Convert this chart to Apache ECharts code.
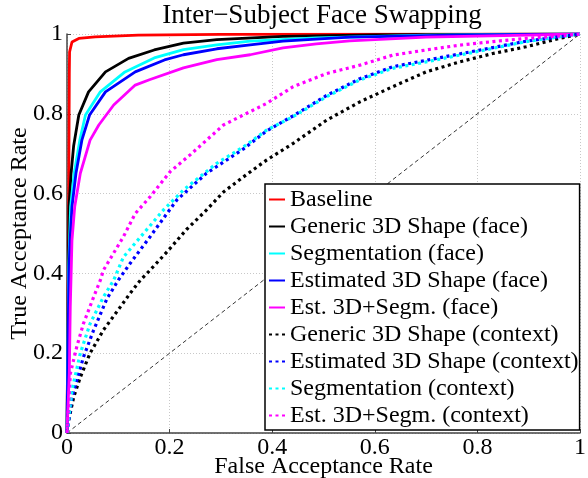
<!DOCTYPE html>
<html>
<head>
<meta charset="utf-8">
<title>Inter-Subject Face Swapping</title>
<script src="https://cdn.jsdelivr.net/npm/echarts@6/dist/echarts.min.js"></script>
<style>
	html, body { margin: 0; padding: 0; background: #fff; }
	#chart { width: 588px; height: 478px; }
</style>
</head>
<body>
<div id="chart"></div>
<script>
	// ROC curves, [false acceptance rate, true acceptance rate]
	var baseline = [[0,0],[0.003,0.5],[0.0045,0.9],[0.005,0.955],[0.0097,0.98],[0.023,0.989],[0.055,0.993],[0.139,0.997],[0.3,0.999],[1,1]];
	var genericFace = [[0,0],[0.002,0.3],[0.004,0.567],[0.008,0.651],[0.013,0.72],[0.023,0.797],[0.042,0.855],[0.075,0.905],[0.12,0.939],[0.17,0.96],[0.227,0.977],[0.292,0.986],[0.421,0.994],[0.6,0.998],[1,1]];
	var segFace = [[0,0],[0.003,0.4],[0.007,0.567],[0.014,0.651],[0.025,0.734],[0.036,0.797],[0.065,0.855],[0.113,0.905],[0.17,0.94],[0.227,0.961],[0.292,0.973],[0.357,0.982],[0.486,0.99],[0.7,0.997],[1,1]];
	var estFace = [[0,0],[0.0037,0.4],[0.006,0.483],[0.0097,0.567],[0.0175,0.651],[0.029,0.734],[0.044,0.797],[0.075,0.855],[0.133,0.905],[0.19,0.935],[0.227,0.948],[0.292,0.963],[0.357,0.973],[0.421,0.982],[0.551,0.992],[0.75,0.997],[1,1]];
	var estSegFace = [[0,0],[0.0045,0.15],[0.0064,0.316],[0.0097,0.483],[0.015,0.567],[0.026,0.651],[0.045,0.734],[0.062,0.772],[0.091,0.822],[0.133,0.872],[0.162,0.886],[0.227,0.915],[0.292,0.936],[0.357,0.948],[0.421,0.965],[0.486,0.975],[0.551,0.983],[0.7,0.992],[0.85,0.996],[1,1]];
	var genericCtx = [[0,0],[0.002,0.024],[0.013,0.09],[0.026,0.14],[0.045,0.2],[0.071,0.258],[0.104,0.316],[0.123,0.35],[0.143,0.383],[0.156,0.4],[0.195,0.454],[0.233,0.51],[0.272,0.559],[0.305,0.604],[0.344,0.642],[0.389,0.684],[0.441,0.726],[0.506,0.784],[0.571,0.83],[0.635,0.868],[0.7,0.905],[0.765,0.93],[0.83,0.951],[0.895,0.968],[0.96,0.989],[1,1]];
	var estCtx = [[0,0],[0.0097,0.09],[0.032,0.19],[0.052,0.258],[0.078,0.337],[0.1,0.383],[0.123,0.425],[0.162,0.492],[0.214,0.584],[0.272,0.651],[0.344,0.712],[0.389,0.757],[0.441,0.795],[0.506,0.846],[0.571,0.888],[0.635,0.918],[0.7,0.934],[0.765,0.95],[0.83,0.966],[0.895,0.982],[0.96,0.993],[1,1]];
	var segCtx = [[0,0],[0.0097,0.107],[0.026,0.2],[0.045,0.274],[0.071,0.341],[0.091,0.383],[0.11,0.441],[0.149,0.5],[0.188,0.559],[0.227,0.609],[0.292,0.676],[0.344,0.717],[0.389,0.759],[0.441,0.793],[0.506,0.843],[0.571,0.885],[0.635,0.914],[0.7,0.93],[0.765,0.947],[0.83,0.964],[0.895,0.981],[0.96,0.993],[1,1]];
	var estSegCtx = [[0,0],[0.0065,0.149],[0.019,0.216],[0.032,0.274],[0.052,0.341],[0.065,0.383],[0.071,0.408],[0.11,0.492],[0.133,0.55],[0.162,0.592],[0.201,0.655],[0.24,0.697],[0.305,0.772],[0.389,0.826],[0.441,0.868],[0.506,0.901],[0.571,0.922],[0.635,0.947],[0.7,0.96],[0.765,0.972],[0.83,0.981],[0.895,0.989],[0.96,0.995],[1,1]];
	var chance = [[0,0],[1,1]];

	var names = ['Baseline', 'Generic 3D Shape (face)', 'Segmentation (face)', 'Estimated 3D Shape (face)', 'Est. 3D+Segm. (face)',
		'Generic 3D Shape (context)', 'Estimated 3D Shape (context)', 'Segmentation (context)', 'Est. 3D+Segm. (context)'];
	var curves = [baseline, genericFace, segFace, estFace, estSegFace, genericCtx, estCtx, segCtx, estSegCtx];
	var colors = ['#ff0000', '#000000', '#00ffff', '#0000ff', '#ff00ff', '#000000', '#0000ff', '#00ffff', '#ff00ff'];

	var font = "'Liberation Serif', 'DejaVu Serif', serif";

	var series = [{
		name: 'chance',
		type: 'line',
		data: chance,
		symbol: 'none',
		silent: true,
		lineStyle: { color: '#000', width: 0.8, type: [4, 3] }
	}];
	for (var i = 0; i < curves.length; i++) {
		var dotted = i >= 5;
		series.push({
			name: names[i],
			type: 'line',
			data: curves[i],
			symbol: 'none',
			color: colors[i],
			lineStyle: {
				color: colors[i],
				width: dotted ? 3.2 : 2.8,
				type: dotted ? [3, 3.5] : 'solid',
				cap: 'butt'
			}
		});
	}

	var chart = echarts.init(document.getElementById('chart'));
	chart.setOption({
		animation: false,
		title: {
			text: 'Inter\u2212Subject Face Swapping',
			left: 322,
			top: 2,
			padding: 0,
			textAlign: 'center',
			textStyle: { fontFamily: font, fontSize: 27, fontWeight: 'normal', color: '#000' }
		},
		grid: { left: 67, right: 8, top: 34, bottom: 45, outerBoundsMode: 'none' },
		legend: {
			data: names,
			orient: 'vertical',
			left: 265,
			top: 184,
			itemWidth: 16,
			itemHeight: 14,
			itemGap: 0,
			padding: [2, 1, 1, 3],
			backgroundColor: '#fff',
			borderColor: '#000',
			borderWidth: 1.5,
			itemStyle: { opacity: 0, borderWidth: 0 },
			textStyle: { fontFamily: font, fontSize: 24, lineHeight: 27, color: '#000' }
		},
		xAxis: {
			type: 'value',
			min: 0,
			max: 1,
			interval: 0.2,
			name: 'False Acceptance Rate',
			nameLocation: 'middle',
			nameGap: 22,
			nameMoveOverlap: false,
			nameTextStyle: { fontFamily: font, fontSize: 24, color: '#000' },
			axisLine: { lineStyle: { color: '#444', width: 1.5 } },
			axisTick: { inside: true, length: 4, lineStyle: { color: '#444' } },
			axisLabel: { fontFamily: font, fontSize: 24, color: '#000', margin: 3 },
			splitLine: { show: true, lineStyle: { color: '#c8c8c8', type: [1, 2] } }
		},
		yAxis: {
			type: 'value',
			min: 0,
			max: 1,
			interval: 0.2,
			name: 'True Acceptance Rate',
			nameLocation: 'middle',
			nameGap: 35,
			nameMoveOverlap: false,
			nameTextStyle: { fontFamily: font, fontSize: 24, color: '#000' },
			axisLine: { show: true, lineStyle: { color: '#444', width: 1.5 } },
			axisTick: { show: true, inside: true, length: 4, lineStyle: { color: '#444' } },
			axisLabel: { fontFamily: font, fontSize: 24, color: '#000', margin: 4 },
			splitLine: { show: true, lineStyle: { color: '#c8c8c8', type: [1, 2] } }
		},
		series: series
	});
</script>
</body>
</html>
